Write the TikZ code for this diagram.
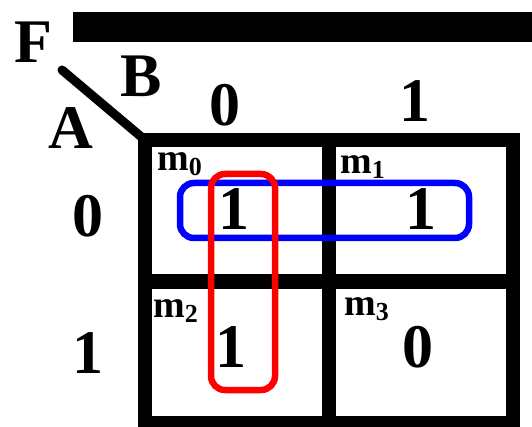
\documentclass[tikz,border=0pt]{standalone}
\usepackage{fontspec}
\setmainfont{Liberation Serif}
\newcommand{\mterm}[1]{m\raisebox{-5pt}{\fontsize{26}{26}\selectfont #1}}
\begin{document}
\begin{tikzpicture}[x=1pt, y=-1pt,
		every node/.style={text centered, inner sep=0pt, font=\fontsize{62}{62}\selectfont\bfseries},
		cell/.style={rectangle, draw, line width=14pt, minimum width=184pt, minimum height=141.5pt, outer sep=0pt},
		mlabel/.style={anchor=north west, font=\fontsize{38}{38}\selectfont\bfseries},
		loop/.style={line width=6.5pt, rounded corners=14pt}]
		\useasboundingbox (0,0) rectangle (532,427);
		\fill (73,12) rectangle (532,42);

		\draw (237,210.75)	node[cell] (m0) {}
			(421,210.75)	node[cell] (m1) {}
			(237,352.25)	node[cell] (m2) {}
			(421,352.25)	node[cell] (m3) {};

		\coordinate (tip) at (62,70);
		\draw[line width=9pt] (tip) -- (m0.north west);
		\fill (tip) circle (4.5pt);

		\draw (33,42)	node (F) {F}
			(141,76)	node (B) {B}
			(71,128)	node (A) {A}
			(225,105)	node (b0) {0}
			(415,101)	node (b1) {1}
			(88,216)	node (a0) {0}
			(88,353)	node (a1) {1};

		\draw (157,152)	node[mlabel] (l0) {\mterm{0}}
			(340,155)	node[mlabel] (l1) {\mterm{1}}
			(153,299)	node[mlabel] (l2) {\mterm{2}}
			(344,297)	node[mlabel] (l3) {\mterm{3}};

		\draw (234,209)	node (v0) {1}
			(421,209)	node (v1) {1}
			(231,347)	node (v2) {1}
			(418,347)	node (v3) {0};

		\draw[loop, blue] (180,183) rectangle (469,238);
		\draw[loop, red] (211,174) rectangle (275,390);
\end{tikzpicture}
\end{document}
